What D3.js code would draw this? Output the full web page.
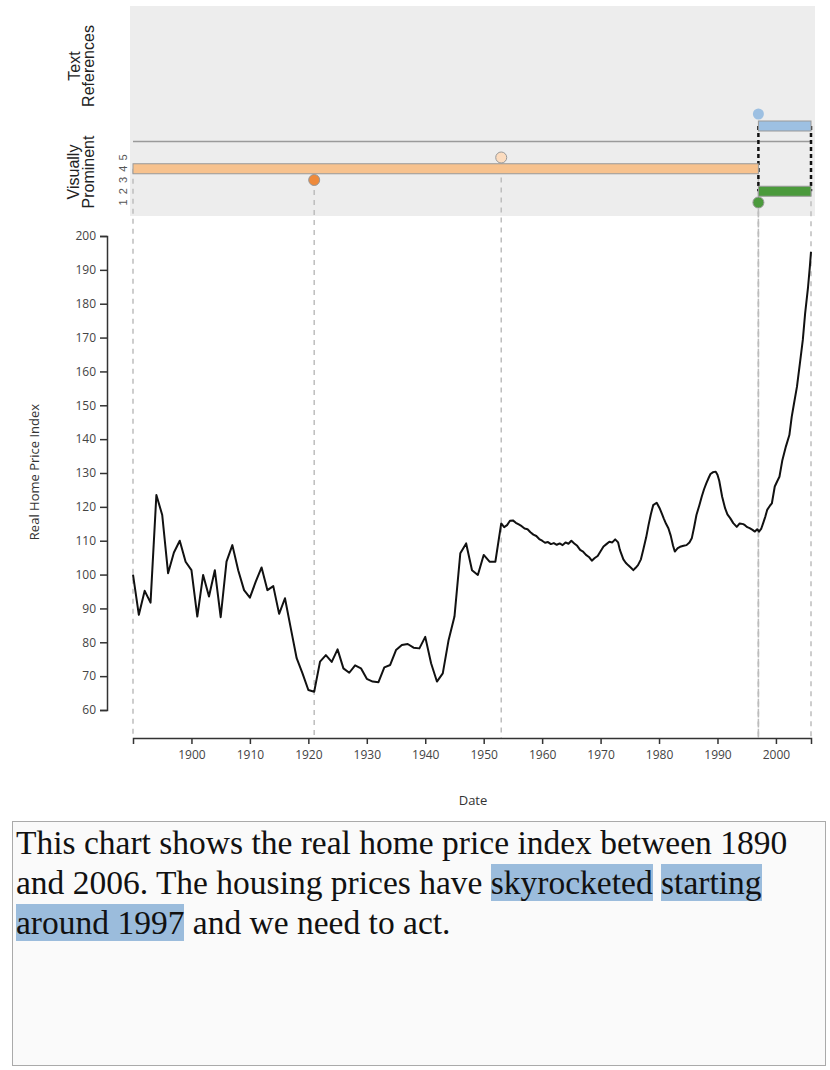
<!DOCTYPE html>
<html>
<head>
<meta charset="utf-8">
<script src="https://cdn.jsdelivr.net/npm/d3@7"></script>
<style>
body { margin: 0; background: #fff; }
#chart { position: absolute; left: 0; top: 0; }
#caption {
  position: absolute; left: 12px; top: 821px;
  width: 806px; height: 239px;
  border: 1px solid #aaa; background: #fafafa;
  font-family: "Liberation Serif", "Times New Roman", serif;
  font-size: 33.5px; line-height: 40px; padding: 1px 3px 3px 3px; color: #111;
}
.hl { background: #9bbcdc; }
</style>
</head>
<body>
<div id="chart"></div>
<div id="caption"></div>
<script>
// real home price index, annual to 1953 then finer steps
var years = [1890,1891,1892,1893,1894,1895,1896,1897,1898,1899,
  1900,1901,1902,1903,1904,1905,1906,1907,1908,1909,
  1910,1911,1912,1913,1914,1915,1916,1917,1918,1919,
  1920,1921,1922,1923,1924,1925,1926,1927,1928,1929,
  1930,1931,1932,1933,1934,1935,1936,1937,1938,1939,
  1940,1941,1942,1943,1944,1945,1946,1947,1948,1949,
  1950,1951,1952,1953,
  1953.5,1954,1954.5,1955,1955.5,1956,1956.5,1957,1957.5,1958,1958.5,1959,1959.5,
  1960,1960.5,1961,1961.5,1962,1962.5,1963,1963.5,1964,1964.5,1965,1965.5,
  1966,1966.5,1967,1967.5,1968,1968.5,1969,1969.5,1970,1970.5,1971,1971.5,
  1972,1972.5,1973,1973.3,1973.9,1974.3,1974.7,1975.2,1975.6,1976,1976.4,1976.9,
  1977.3,1977.8,1978.2,1978.6,1979,1979.6,1980.1,1980.5,1980.8,1981.2,1981.6,
  1982,1982.4,1982.7,1983.2,1983.6,1984.2,1984.7,1985.2,1985.6,1986,1986.4,
  1986.9,1987.3,1987.7,1988.1,1988.5,1988.8,1989.2,1989.7,1990,1990.3,1990.8,
  1991.3,1991.7,1992.2,1992.7,1993.3,1993.8,1994.4,1994.7,1995.1,1995.5,1996,
  1996.4,1996.8,1997.1,1997.5,1997.8,1998.2,1998.5,1999,1999.3,1999.8,2000.2,
  2000.6,2001.1,2001.7,2002.3,2002.7,2003.1,2003.6,2004.1,2004.6,2005,2005.5,
  2005.8,2006];
var hpi = [100,88.1,95.2,91.7,123.5,117.6,100.4,106.5,110,103.8,
  101.3,87.6,99.9,93.5,101.3,87.4,103.8,108.7,101.3,95.4,
  93.2,97.9,102.1,95.4,96.6,88.4,93.0,84.1,75.3,70.8,
  65.9,65.4,74.3,76.2,74.2,77.9,72.3,71.0,73.2,72.3,
  69.2,68.4,68.2,72.6,73.3,77.7,79.2,79.5,78.4,78.2,
  81.6,73.8,68.4,70.8,80.7,87.6,106.3,109.2,101.3,99.9,
  105.8,103.8,103.8,115.1,
  114.0,114.6,115.9,116.0,115.3,114.8,114.3,113.6,113.4,112.5,111.8,111.4,110.5,
  110.0,109.4,109.6,109.0,109.3,108.8,109.2,108.7,109.5,109.1,110.0,109.2,
  108.5,107.3,106.8,105.8,105.2,104.1,104.9,105.5,106.9,108.3,109.0,109.7,
  109.5,110.4,109.5,107.3,104.5,103.5,102.8,102.0,101.3,102.0,102.8,104.5,
  107.3,111.0,114.6,117.8,120.5,121.2,119.6,117.9,116.6,115.0,113.7,
  111.5,108.5,106.8,107.8,108.2,108.5,108.7,109.5,110.7,114.0,117.6,
  120.5,123.0,125.2,127.0,128.6,129.7,130.2,130.4,129.5,127.7,123.0,
  119.6,117.8,116.6,115.2,114.1,115.1,114.9,114.6,114.0,113.7,113.2,
  112.7,113.4,112.7,113.6,115.1,117.2,119.1,120.4,121.0,126.0,127.5,
  128.9,133.8,137.8,141.2,146.6,150.6,155.5,162.4,169.3,177.2,185.0,
  190.9,195.3];

var xTicks = [1900,1910,1920,1930,1940,1950,1960,1970,1980,1990,2000];
var yTicks = [60,70,80,90,100,110,120,130,140,150,160,170,180,190,200];
var levelTicks = [1,2,3,4,5];

// visually prominent marks (level 1-5)
var visType  = ["bar", "dot", "dot", "bar", "dot"];
var visStart = [1890, 1921, 1953, 1997, 1997];
var visEnd   = [1997, 1921, 1953, 2006, 1997];
var visLevel = [4, 3, 5, 2, 1];
var visColor = ["#f7c28e", "#ee8a3b", "#fcdcbf", "#4b9a3c", "#4b9a3c"];

// text reference marks
var refType  = ["dot", "bar"];
var refStart = [1997, 1997];
var refEnd   = [1997, 2006];
var refLevel = [2, 1];
var refColor = "#9dc0e2";

var caption = [
  ["This chart shows the real home price index between 1890 and 2006. The housing prices have ", false],
  ["skyrocketed", true],
  [" ", false],
  ["starting around 1997", true],
  [" and we need to act.", false]
];

var svg = d3.select("#chart").append("svg")
  .attr("width", 830)
  .attr("height", 815);

var x = d3.scaleLinear().domain([1890, 2006]).range([133, 811]);
var y = d3.scaleLinear().domain([60, 200]).range([710, 236]);
var lvl = d3.scaleLinear().domain([1, 5]).range([202.5, 157.5]);
var refY = d3.scaleLinear().domain([1, 2]).range([126, 114]);

// grey annotation panel
svg.append("rect")
  .attr("x", 130).attr("y", 6)
  .attr("width", 685).attr("height", 210)
  .attr("fill", "#ededed");

svg.append("line")
  .attr("x1", x(1890)).attr("x2", x(2006))
  .attr("y1", 141.5).attr("y2", 141.5)
  .attr("stroke", "#9a9a9a").attr("stroke-width", 1.5);

// guides from every visual mark down to the axis
var guides = [];
visType.forEach(function(t, i) {
  guides.push({yr: visStart[i], y0: lvl(visLevel[i])});
  if (t == "bar") guides.push({yr: visEnd[i], y0: lvl(visLevel[i])});
});
svg.selectAll(".guide")
  .data(guides)
  .enter().append("line")
  .attr("class", "guide")
  .attr("x1", function(d) { return x(d.yr); })
  .attr("x2", function(d) { return x(d.yr); })
  .attr("y1", function(d) { return d.y0; })
  .attr("y2", 738)
  .attr("stroke", "#bdbdbd")
  .attr("stroke-width", 1.5)
  .attr("stroke-dasharray", "5,5");

// black dashed links text ref bar -> visual bar
var refBar = refType.indexOf("bar"), visBar = 3;
[refStart[refBar], refEnd[refBar]].forEach(function(yr) {
  svg.append("line")
    .attr("x1", x(yr)).attr("x2", x(yr))
    .attr("y1", refY(refLevel[refBar])).attr("y2", lvl(visLevel[visBar]))
    .attr("stroke", "#111").attr("stroke-width", 2.5)
    .attr("stroke-dasharray", "4,3");
});

function drawMarks(types, starts, ends, levels, colors, yFn) {
  types.forEach(function(t, i) {
    var c = typeof colors == "string" ? colors : colors[i];
    if (t == "bar") {
      svg.append("rect")
        .attr("x", x(starts[i]))
        .attr("y", yFn(levels[i]) - 5)
        .attr("width", x(ends[i]) - x(starts[i]))
        .attr("height", 10)
        .attr("fill", c)
        .attr("stroke", "#999").attr("stroke-width", 1);
    } else {
      svg.append("circle")
        .attr("cx", x(starts[i]))
        .attr("cy", yFn(levels[i]))
        .attr("r", 5.5)
        .attr("fill", c)
        .attr("stroke", c == refColor ? "none" : "#999")
        .attr("stroke-width", 1);
    }
  });
}
drawMarks(visType, visStart, visEnd, visLevel, visColor, lvl);
drawMarks(refType, refStart, refEnd, refLevel, refColor, refY);

// panel labels
function sideLabel(lines, cy, xs) {
  lines.forEach(function(l, i) {
    svg.append("text")
      .attr("transform", "translate(" + xs[i] + "," + cy + ") rotate(-90)")
      .attr("text-anchor", "middle")
      .style("font-family", "Liberation Sans, Arial, sans-serif")
      .style("font-size", "16px")
      .attr("fill", "#222")
      .text(l);
  });
}
sideLabel(["Text", "References"], 66, [80, 94]);
sideLabel(["Visually", "Prominent"], 172, [79, 94]);

svg.selectAll(".lvl")
  .data(levelTicks)
  .enter().append("text")
  .attr("class", "lvl")
  .attr("transform", function(d) { return "translate(127," + lvl(d) + ") rotate(-90)"; })
  .attr("text-anchor", "middle")
  .style("font-family", "Liberation Sans, Arial, sans-serif")
  .style("font-size", "11px")
  .attr("fill", "#555")
  .text(function(d) { return d; });

// the line
var pts = years.map(function(yr, i) { return [yr, hpi[i]]; });
svg.append("path")
  .datum(pts)
  .attr("fill", "none")
  .attr("stroke", "#111")
  .attr("stroke-width", 2)
  .attr("stroke-linejoin", "round")
  .attr("d", d3.line()
    .x(function(d) { return x(d[0]); })
    .y(function(d) { return y(d[1]); }));

// axes
var gx = svg.append("g")
  .attr("transform", "translate(0,738)")
  .call(d3.axisBottom(x).tickValues(xTicks).tickFormat(d3.format("d")).tickPadding(6));
var gy = svg.append("g")
  .attr("transform", "translate(107,0)")
  .call(d3.axisLeft(y).tickValues(yTicks).tickSize(7).tickPadding(4));

[gx, gy].forEach(function(g) {
  g.selectAll("path, line").attr("stroke", "#333").attr("stroke-width", 1.5);
  g.selectAll("text")
    .attr("fill", "#444")
    .style("font-family", "Open Sans, sans-serif")
    .style("font-size", "12px");
});

svg.append("text")
  .attr("transform", "translate(39,472) rotate(-90)")
  .attr("text-anchor", "middle")
  .style("font-family", "Open Sans, sans-serif")
  .style("font-size", "13px")
  .attr("fill", "#333")
  .text("Real Home Price Index");

svg.append("text")
  .attr("x", 473).attr("y", 805)
  .attr("text-anchor", "middle")
  .style("font-family", "Open Sans, sans-serif")
  .style("font-size", "13px")
  .attr("fill", "#333")
  .text("Date");

// caption with highlighted phrases
d3.select("#caption").selectAll("span")
  .data(caption)
  .enter().append("span")
  .attr("class", function(d) { return d[1] ? "hl" : null; })
  .text(function(d) { return d[0]; });
</script>
</body>
</html>
